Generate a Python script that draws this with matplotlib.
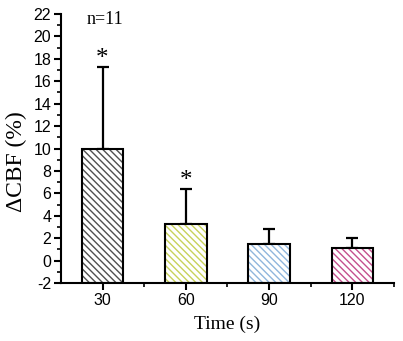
import matplotlib.pyplot as plt
import numpy as np
from matplotlib.ticker import MultipleLocator

times = ['30', '60', '90', '120']
means = [10.0, 3.3, 1.5, 1.1]
upper_err = [7.3, 3.1, 1.3, 0.9]
stars = ['*', '*', '', '']
hatch_colors = ['#505050', '#c8d25a', '#90b6dc', '#c4508e']

plt.rcParams['hatch.linewidth'] = 1.0
plt.rcParams['axes.unicode_minus'] = False

fig = plt.figure(figsize=(4.03, 3.41), dpi=100)
ax = fig.add_axes([0.151, 0.170, 0.827, 0.789])

x = np.arange(1, len(times) + 1)

# hatched fill first, then a black outline on top
for xi, m, c in zip(x, means, hatch_colors):
    ax.bar(xi, m + 2, bottom=-2, width=0.5, facecolor='white',
           edgecolor=c, hatch='\\' * 5, linewidth=0, zorder=2)
ax.bar(x, np.array(means) + 2, bottom=-2, width=0.5, fill=False,
       edgecolor='black', linewidth=1.5, zorder=3)

ax.errorbar(x, means, yerr=[np.zeros(len(means)), upper_err], fmt='none',
            ecolor='black', elinewidth=1.6, capsize=4, capthick=1.6, zorder=1)

for xi, m, e, s in zip(x, means, upper_err, stars):
    if s:
        ax.text(xi, m + e - 0.3, s, ha='center', va='bottom',
                fontsize=18, family='Liberation Serif')

ax.text(1.03, 22.3, 'n=11', ha='center', va='top', fontsize=13,
        family='Liberation Serif', clip_on=False)

ax.set_xlim(0.5, 4.5)
ax.set_ylim(-2, 22)
ax.set_xticks(x)
ax.set_xticklabels(times)
ax.set_xticks(x + 0.5, minor=True)
ax.set_yticks(np.arange(-2, 23, 2))
ax.yaxis.set_minor_locator(MultipleLocator(1))

for side in ['top', 'right']:
    ax.spines[side].set_visible(False)
for side in ['left', 'bottom']:
    ax.spines[side].set_linewidth(1.5)

ax.tick_params(which='major', direction='out', length=5, width=1.5,
               labelsize=11.5, pad=2)
ax.tick_params(which='minor', direction='out', length=3, width=1.2)
for lab in ax.get_xticklabels() + ax.get_yticklabels():
    lab.set_family('Liberation Sans')

ax.set_xlabel('Time (s)', fontsize=14, family='Liberation Serif', labelpad=6)
ax.set_ylabel('ΔCBF (%)', fontsize=17, family='Liberation Serif')
ax.yaxis.set_label_coords(-0.10, 0.453)

fig.savefig('out.png', dpi=100)
